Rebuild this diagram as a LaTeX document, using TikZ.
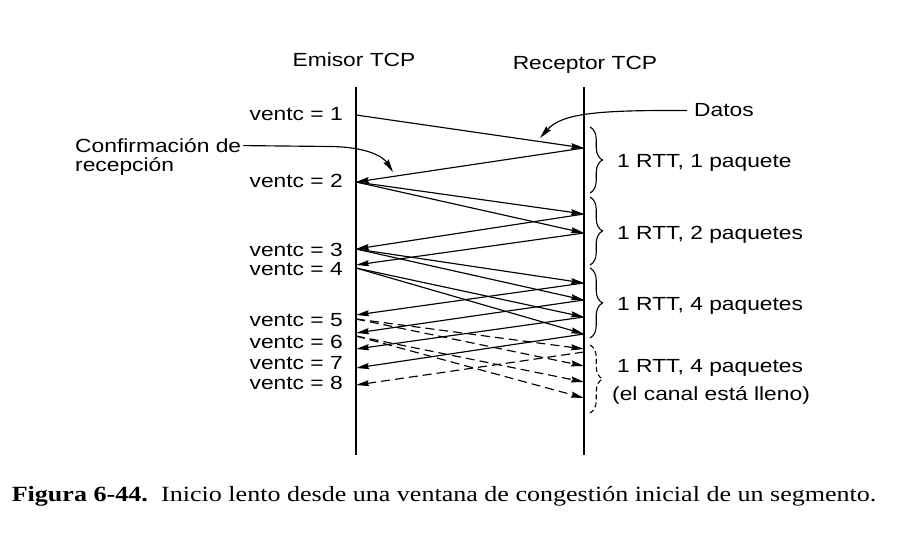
\documentclass[tikz,border=0pt]{standalone}
\usepackage{fontspec}
\newfontfamily\diagfont{Liberation Sans}[FakeStretch=1.2]
\newfontfamily\capfont{Liberation Serif}[FakeStretch=1.2]
\usetikzlibrary{arrows.meta,decorations.pathreplacing}
\begin{document}
\begin{tikzpicture}[x=1pt,y=-1pt,
  lbl/.style={font=\diagfont\fontsize{19}{22}\selectfont, inner sep=0pt},
  caption/.style={font=\capfont\fontsize{21.7}{24}\selectfont, inner sep=0pt},
  tip/.style={-{Stealth[length=13pt,width=6pt,inset=1.5pt]}},
  msg/.style={line width=1.15pt, tip},
  dmsg/.style={msg, dash pattern=on 9pt off 5pt},
  life/.style={line width=1.4pt},
  note/.style={line width=1.15pt, tip},
  brc/.style={line width=1.1pt, decorate, decoration={brace, amplitude=12.5pt}}]
\useasboundingbox (0,0) rectangle (897,534);
\fill[white] (0,0) rectangle (897,534);

% lifelines
\node[lbl, anchor=base] (emisor) at (354,66.5) {Emisor TCP};
\node[lbl, anchor=base] (receptor) at (585,70) {Receptor TCP};
\coordinate (eTop) at (356,87);  \coordinate (eBot) at (356,455);
\coordinate (rTop) at (584,87);  \coordinate (rBot) at (584,455);
\draw[life] (eTop) -- (eBot);
\draw[life] (rTop) -- (rBot);

% sender events
\coordinate (s1) at (356,115);
\coordinate (s2) at (356,182);
\coordinate (s3) at (356,249);
\coordinate (a3) at (356,265);
\coordinate (s4) at (356,268);
\coordinate (a4) at (356,315);
\coordinate (s5) at (356,319);
\coordinate (a5) at (356,333);
\coordinate (s6) at (356,336);
\coordinate (a6) at (356,349);
\coordinate (a7) at (356,368);
\coordinate (a8) at (356,385);

% receiver events
\coordinate (d1) at (584,148);
\coordinate (d2) at (584,214);
\coordinate (d3) at (584,233);
\coordinate (d4) at (584,283);
\coordinate (d5) at (584,300);
\coordinate (d6) at (584,317);
\coordinate (d7) at (584,334);
\coordinate (d8) at (584,349);
\coordinate (dk) at (584,352);
\coordinate (d9) at (584,366);
\coordinate (d10) at (584,382);
\coordinate (d11) at (584,398);

% ventc labels
\node[lbl, anchor=base east] (v1) at (343,120.5) {ventc = 1};
\node[lbl, anchor=base east] (v2) at (343,187.5) {ventc = 2};
\node[lbl, anchor=base east] (v3) at (343,257) {ventc = 3};
\node[lbl, anchor=base east] (v4) at (343,275.5) {ventc = 4};
\node[lbl, anchor=base east] (v5) at (343,326.5) {ventc = 5};
\node[lbl, anchor=base east] (v6) at (343,348.5) {ventc = 6};
\node[lbl, anchor=base east] (v7) at (343,370) {ventc = 7};
\node[lbl, anchor=base east] (v8) at (343,389.5) {ventc = 8};

% data segments
\draw[msg] (s1) -- (d1);
\draw[msg] (s2) -- (d2);
\draw[msg] (s2) -- (d3);
\draw[msg] (s3) -- (d4);
\draw[msg] (s3) -- (d5);
\draw[msg] (s4) -- (d6);
\draw[msg] (s4) -- (d7);
\draw[dmsg] (s5) -- (d8);
\draw[dmsg] (s5) -- (d9);
\draw[dmsg] (s6) -- (d10);
\draw[dmsg] (s6) -- (d11);

% acknowledgements
\draw[msg] (d1) -- (s2);
\draw[msg] (d2) -- (s3);
\draw[msg] (d3) -- (a3);
\draw[msg] (d4) -- (a4);
\draw[msg] (d5) -- (a5);
\draw[msg] (d6) -- (a6);
\draw[msg] (d7) -- (a7);
\draw[dmsg] (dk) -- (a8);

% annotations
\node[lbl, anchor=base west] (datos) at (694,117) {Datos};
\coordinate (datosTip) at (540,138);
\draw[note] ([xshift=-7pt]datos.west) .. controls (600,110) and (562,113) .. (datosTip);

\node[lbl, anchor=base west] (conf1) at (75,152.5) {Confirmación de};
\node[lbl, anchor=base west] (conf2) at (75,172) {recepción};
\coordinate (confMid) at (330,146.5);
\coordinate (confTip) at (393,172);
\draw[note] ([xshift=2pt]conf1.east) -- (confMid) .. controls (370,147) and (384,158) .. (confTip);

% braces
\coordinate (b1t) at (590,127); \coordinate (b1b) at (590,193);
\coordinate (b2t) at (590,197); \coordinate (b2b) at (590,265);
\coordinate (b3t) at (590,268); \coordinate (b3b) at (590,338);
\coordinate (b4t) at (590,345); \coordinate (b4b) at (590,413);
\draw[brc] (b1t) -- (b1b);
\draw[brc] (b2t) -- (b2b);
\draw[brc] (b3t) -- (b3b);
\draw[brc, dash pattern=on 5pt off 3pt] (b4t) -- (b4b);

\node[lbl, anchor=base west] (rtt1) at (617,168) {1 RTT, 1 paquete};
\node[lbl, anchor=base west] (rtt2) at (617,240) {1 RTT, 2 paquetes};
\node[lbl, anchor=base west] (rtt3) at (617,311) {1 RTT, 4 paquetes};
\node[lbl, anchor=base west] (rtt4) at (617,373) {1 RTT, 4 paquetes};
\node[lbl, anchor=base west] (rtt4b) at (612,401) {(el canal está lleno)};

% caption
\node[caption, font=\capfont\bfseries\fontsize{21.7}{24}\selectfont, anchor=base east] (figlbl) at (148,501) {Figura 6-44.};
\node[caption, anchor=base west] (figtxt) at (161,501) {Inicio lento desde una ventana de congestión inicial de un segmento.};
\end{tikzpicture}
\end{document}
